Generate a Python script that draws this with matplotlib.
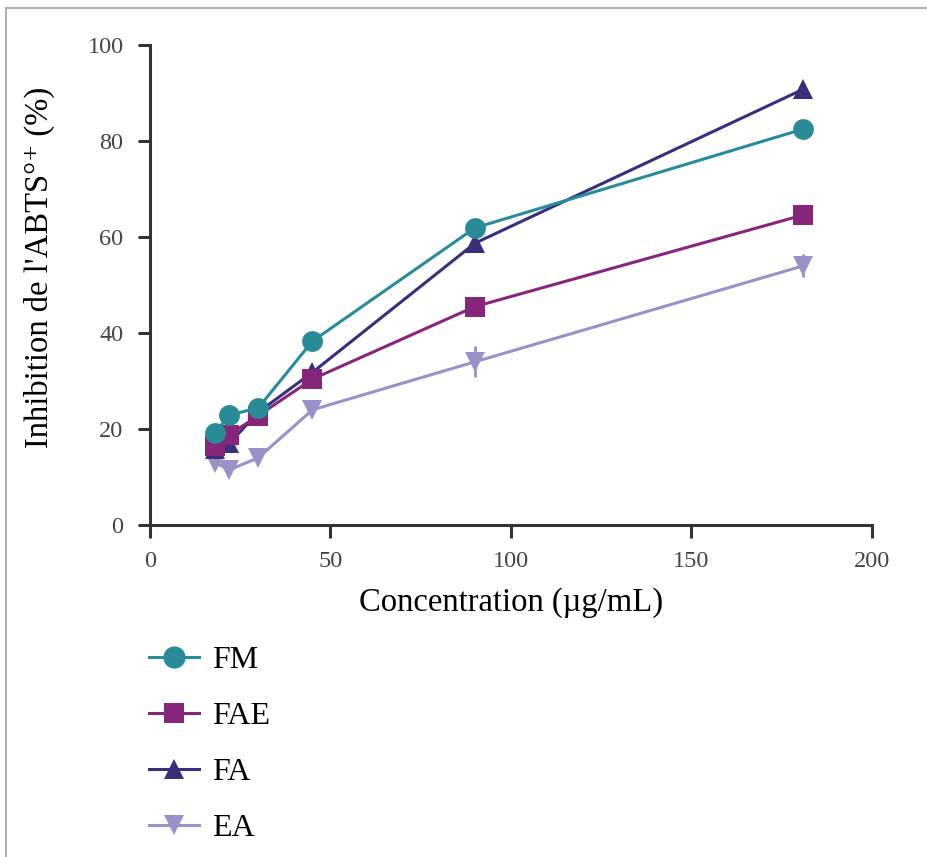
import matplotlib
matplotlib.use("Agg")
import matplotlib.pyplot as plt
from matplotlib.lines import Line2D
from matplotlib.patches import Rectangle

plt.rcParams['font.family'] = ['Liberation Serif', 'DejaVu Serif']

conc = [18, 22, 30, 45, 90, 181]
labels = ["FM", "FAE", "FA", "EA"]
fm = [19.2, 22.9, 24.4, 38.3, 61.9, 82.5]
fae = [16.5, 18.8, 22.8, 30.4, 45.5, 64.6]
fa = [15.8, 17.0, 23.5, 31.8, 58.7, 90.8]
ea = [13.0, 11.5, 14.0, 24.0, 34.0, 54.0]
fm_err = [0.5, 0.5, 0.5, 0.5, 0.6, 1.0]
fae_err = [0.5, 0.5, 0.5, 0.6, 1.0, 0.8]
fa_err = [0.5, 0.5, 0.5, 1.2, 0.8, 0.6]
ea_err = [0.6, 0.6, 0.6, 0.8, 3.2, 2.4]
xticks = [0, 50, 100, 150, 200]
yticks = [0, 20, 40, 60, 80, 100]

colors = {"FM": "#2a8b98", "FAE": "#86267a", "FA": "#372f7a", "EA": "#9a91c9"}
markers = {"FM": "o", "FAE": "s", "FA": "^", "EA": "v"}
msize = {"FM": 15, "FAE": 14, "FA": 14, "EA": 14}
data = {"FM": (fm, fm_err), "FAE": (fae, fae_err), "FA": (fa, fa_err), "EA": (ea, ea_err)}

fig = plt.figure(figsize=(9.28, 8.57), dpi=100)
fig.patches.append(Rectangle((6/928, -0.1), 1.2, 1 - 8/857 + 0.1, transform=fig.transFigure,
                             fill=False, edgecolor="#b0b0b0", linewidth=1.5))
ax = fig.add_axes([150/928, 1 - 525/857, 722/928, 480/857])

for name in ["EA", "FA", "FAE", "FM"]:
    y, e = data[name]
    ax.errorbar(conc, y, yerr=e, color=colors[name], marker=markers[name],
                markersize=msize[name], linewidth=2.2, elinewidth=2.0, capsize=7,
                capthick=2.0, markeredgewidth=0, clip_on=False)

ax.set_xlim(0, 200)
ax.set_ylim(0, 100)
ax.set_xticks(xticks)
ax.set_yticks(yticks)
for s in ["top", "right"]:
    ax.spines[s].set_visible(False)
for s in ["left", "bottom"]:
    ax.spines[s].set_linewidth(2.2)
    ax.spines[s].set_color("#333333")
ax.tick_params(direction="out", length=9, width=2.2, color="#333333",
               labelsize=17.5, labelcolor="#444444", pad=10)
ax.set_xlabel("Concentration (µg/mL)", fontsize=23.5, labelpad=11)
ax.set_ylabel("Inhibition de l'ABTS°⁺ (%)", fontsize=23.5)
ax.yaxis.set_label_coords(-0.132, 0.5375)

handles = [Line2D([], [], color=colors[n], marker=markers[n], markersize=msize[n] + 1,
                  linewidth=2.2, markeredgewidth=0) for n in labels]
fig.legend(handles, labels, loc="upper left", bbox_to_anchor=(120/928, 1 - 617/857),
           frameon=False, fontsize=23, labelspacing=0.83, handlelength=1.57,
           handletextpad=0.4)

fig.savefig("out.png", dpi=100)
